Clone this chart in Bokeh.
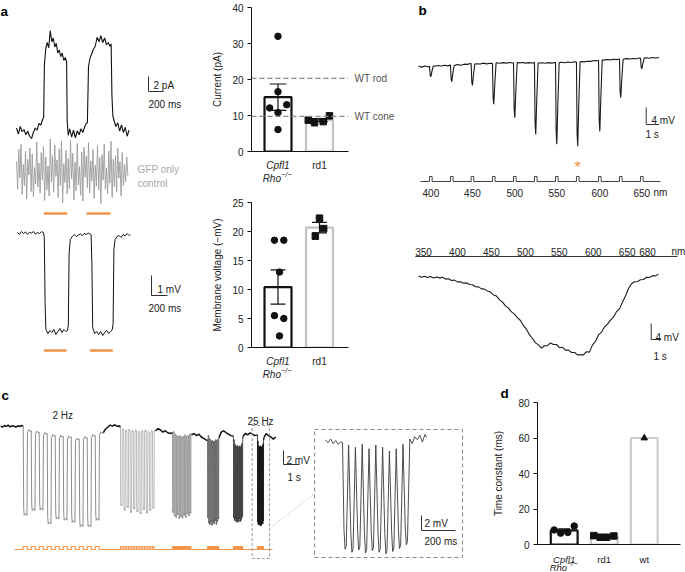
import numpy as np
from bokeh.plotting import figure
from bokeh.models import Range1d, Label, FixedTicker, Span, LinearAxis
from bokeh.layouts import row, column
from bokeh.embed import file_html
from bokeh.resources import INLINE
from bokeh.core.properties import value

# ======================= DATA =======================
# ---- panel a: photocurrent trace (time in ms, current in pA)
a_cur_t = [0, 25, 50, 75, 100, 125, 150, 175, 200, 225, 250, 275, 300, 325, 350, 362, 372, 390, 410, 430,
           450, 470, 490, 510, 530, 550, 570, 590, 610, 630, 650, 668, 676, 690, 710, 735, 760, 785, 810, 835,
           860, 885, 910, 930, 945, 960, 980, 1000, 1025, 1050, 1075, 1100, 1125, 1150, 1175, 1200, 1225, 1245, 1262, 1272,
           1285, 1300, 1325, 1350, 1375, 1400, 1425, 1450, 1475, 1500]
a_cur_v = [0.6, -0.2, 0.8, 0.1, 0.4, -0.3, 0.2, -0.5, -0.8, 0.0, 0.6, 0.3, 1.2, 1.0, 1.8, 2.0, 9.0, 11.2, 12.0, 11.3,
           13.6, 12.1, 12.6, 11.4, 11.9, 10.6, 11.0, 10.1, 10.6, 9.6, 10.0, 9.4, 1.5, -0.4, 0.5, -0.6, 0.3, -0.7, 0.2, -0.3,
           0.5, 0.0, 0.8, 1.2, 1.3, 8.8, 9.9, 10.4, 11.1, 11.5, 12.7, 12.1, 12.9, 12.0, 12.6, 11.7, 12.0, 11.5, 11.8, 5.0,
           2.2, 1.6, 0.8, 1.3, 0.2, 1.0, 0.0, 0.7, -0.5, 0.3]
a_cur_light_on = [364, 933]
a_cur_light_off = [676, 1253]
# GFP-only control trace, one value every 15 ms (pA)
a_gfp_dt = 15
a_gfp_v = [1.2, -2.5, 2.8, -1.0, 3.5, -3.2, 0.8, -2.0, 2.6, -3.8, 1.5, -0.6, 3.0, -2.8, 2.2, -3.5, 0.4, -1.8, 3.8, -2.2,
           1.0, -3.0, 2.4, -1.2, 3.2, -4.0, 1.8, -2.6, 0.6, -3.4, 4.2, -1.5, 2.0, -2.9, 3.4, -0.8, 1.4, -3.6, 2.9, -2.0,
           3.9, -4.3, 0.9, -1.6, 2.7, -3.1, 1.6, -2.4, 4.0, -1.1, 2.3, -3.9, 1.1, -2.7, 3.6, -1.9, 0.5, -3.3, 2.5, -4.1,
           3.1, -0.9, 1.9, -2.3, 3.7, -3.0, 1.3, -1.4, 2.8, -3.7, 0.7, -2.1, 3.3, -2.6, 1.7, -4.4, 2.1, -1.3, 3.5, -2.5,
           0.3, -3.1, 2.6, -1.7, 3.9, -3.6, 1.5, -2.2, 2.0, -2.9, 3.0, -1.0, 1.2, -3.4, 2.4, -2.0, 0.8, -1.5, 1.8, -0.7]
# membrane voltage trace (ms, mV)
a_vm_t = [0, 25, 50, 75, 100, 125, 150, 175, 200, 225, 250, 275, 300, 325, 335, 345, 355, 380, 405, 430,
          455, 480, 505, 530, 555, 580, 605, 625, 635, 645, 660, 685, 710, 735, 760, 785, 810, 835, 860, 885,
          910, 920, 930, 940, 965, 990, 1015, 1040, 1065, 1090, 1115, 1140, 1165, 1185, 1195, 1205, 1220, 1245, 1270, 1295,
          1320, 1345, 1370, 1395, 1410]
a_vm_v = [0.05, -0.05, 0.1, 0.0, 0.08, -0.04, 0.06, 0.02, 0.1, -0.03, 0.05, 0.0, 0.09, 0.04, -0.2, -3.5, -4.8, -5.0, -4.85, -4.95,
          -4.8, -5.05, -4.9, -4.75, -4.95, -4.8, -4.9, -4.85, -4.6, -1.0, -0.3, -0.15, -0.05, -0.15, -0.08, -0.02, -0.1, 0.0, -0.05, 0.02,
          -0.03, -0.05, -1.5, -4.7, -5.0, -4.9, -5.05, -4.9, -5.1, -4.95, -4.85, -5.0, -4.9, -4.8, -4.5, -0.8, -0.3, -0.15, -0.1, -0.2,
          -0.05, -0.12, 0.0, -0.1, -0.05]
a_vm_light_on = [329, 904]
a_vm_light_off = [613, 1191]

# ---- panel a bar charts
groups_a = ["Cpfl1", "rd1"]
cur_cpfl1 = [32.0, 16.6, 12.1, 13.0, 10.8, 6.1]
cur_rd1 = [8.7, 8.0, 8.3, 9.9]
wt_rod_current = 20.3
wt_cone_current = 9.75
vm_cpfl1 = [18.5, 18.5, 13.0, 5.5, 5.0, 2.0]
vm_rd1 = [22.3, 20.5, 19.2]

# ---- panel b, top: responses to 11 wavelengths (time s, mV)
b_wavelength = [400, 425, 450, 475, 500, 525, 550, 575, 600, 625, 650]
b_flash_t = [0.85, 2.46, 4.05, 5.69, 7.31, 8.92, 10.54, 12.15, 13.85, 15.46, 17.08]
b_depth = [2.5, 3.9, 5.1, 9.6, 12.9, 16.9, 19.2, 19.8, 16.7, 9.1, 2.5]
b_flash_dur = 0.2
b_base_dt = 0.25
b_base_v = [0.05, -0.15, 0.10, -0.05, 0.20, 0.05, 0.25, 0.10, 0.30, 0.15, 0.35, 0.20, 0.45, 0.30, 0.55, 0.50,
            0.70, 0.55, 0.65, 0.60, 0.80, 0.62, 0.78, 0.70, 0.90, 0.75, 0.92, 0.80, 0.95, 0.82, 0.98, 0.85,
            0.95, 0.80, 0.92, 0.82, 0.96, 0.84, 0.90, 0.78, 0.92, 0.80, 0.95, 0.85, 1.00, 0.90, 1.05, 0.95,
            1.10, 1.00, 1.15, 1.08, 1.25, 1.20, 1.40, 1.35, 1.55, 1.50, 1.65, 1.55, 1.70, 1.62, 1.78, 1.70,
            1.85, 1.76, 1.90, 1.82, 1.98, 1.90, 2.05, 1.95, 2.10, 2.00, 2.12]
# ---- panel b, bottom: slow spectral ramp 350-680 nm (one value every 0.3 s, mV)
b_ramp_dt = 0.3
b_ramp_v = [0.1, -0.2, 0.05, -0.25, 0.0, -0.35, -0.1, -0.4, -0.2, -0.65, -0.55, -1.0, -0.9, -1.35, -1.3, -1.7,
            -1.6, -2.0, -2.05, -2.55, -2.6, -3.1, -3.15, -3.6, -3.9, -4.6, -4.9, -5.85, -6.4, -7.35, -7.9, -8.85,
            -9.4, -10.35, -11.0, -12.3, -13.2, -14.6, -15.5, -16.6, -17.1, -17.9, -17.3, -17.3, -16.6, -17.0, -17.0,
            -17.8, -17.7, -18.4, -18.4, -19.0, -19.0, -19.6, -19.6, -19.6, -18.8, -18.9, -17.1, -16.2, -14.6, -13.9,
            -12.6, -11.9, -10.9, -10.1, -8.8, -8.1, -6.4, -4.9, -3.0, -1.8, -1.3, -1.25, -0.8, -0.75, -0.2, -0.25,
            0.2, 0.15, 0.6]
b_ramp_ticks = [350, 400, 450, 500, 550, 600, 650, 680]

# ---- panel c: flicker trains (time s, mV)
c_freq = [2, 5, 10, 15, 20, 25]
c_start = [1.42, 7.5, 10.75, 12.94, 14.56, 16.06]
c_bottom = [[-12.7, -12.0, -11.9, -13.9, -13.2, -13.4, -13.7, -14.3, -14.3, -13.4],
            [-11.3, -12.0, -11.6, -12.3, -11.8, -12.2, -12.5, -11.9, -12.4, -12.0, -11.7],
            [-12.3, -12.8, -13.0, -12.6, -13.2, -12.9, -13.1, -12.7, -13.0, -12.5, -12.8, -12.4],
            [-13.0, -13.8, -14.0, -13.6, -14.1, -13.7, -13.9, -13.5, -14.0, -13.6, -13.2],
            [-13.0, -13.4, -13.2, -13.6, -13.3, -13.7, -13.5, -13.2, -13.6, -13.4, -13.1, -12.8],
            [-13.6, -14.0, -13.8, -14.1, -13.9, -14.2, -14.0, -13.8, -13.9, -13.5]]
c_top = [[-0.6, -0.8, -1.0, -1.3, -1.4, -1.5, -1.8, -1.6, -1.3, -0.9],
         [-0.4, -0.6, -0.5, -0.7, -0.6, -0.8, -0.7, -0.6, -0.8, -0.7, -0.6],
         [-0.8, -1.2, -1.4, -1.5, -1.4, -1.6, -1.5, -1.3, -1.5, -1.4, -1.2, -1.1],
         [-1.4, -1.8, -2.0, -2.2, -2.1, -2.3, -2.2, -2.0, -2.1, -1.9, -1.6],
         [-2.0, -2.6, -2.9, -3.0, -2.8, -3.1, -3.0, -2.9, -3.1, -2.8, -2.5, -1.6],
         [-2.2, -2.8, -3.0, -3.1, -2.9, -3.2, -3.0, -2.9, -2.6, -1.8]]
# resting stretches between trains
c_gap_t = [[0.0, 0.12, 0.24, 0.36, 0.48, 0.6, 0.72, 0.84, 0.96, 1.08, 1.2, 1.32, 1.42],
           [6.42, 6.55, 6.7, 6.85, 7.0, 7.15, 7.3, 7.42, 7.5],
           [9.7, 9.85, 10.0, 10.15, 10.3, 10.45, 10.6, 10.75],
           [11.95, 12.1, 12.25, 12.4, 12.55, 12.7, 12.85, 12.94],
           [13.67, 13.8, 13.95, 14.1, 14.25, 14.4, 14.56],
           [15.16, 15.3, 15.45, 15.6, 15.75, 15.9, 16.06],
           [16.46, 16.6, 16.75, 16.9, 17.05, 17.2]]
c_gap_v = [[0.1, -0.1, 0.15, 0.0, 0.2, -0.05, 0.1, 0.05, -0.1, 0.1, 0.0, 0.15, 0.05],
           [-0.9, -0.4, -0.1, 0.2, 0.05, 0.25, 0.0, 0.1, -0.1],
           [-0.6, -0.3, -0.5, -0.8, -0.6, -0.9, -1.0, -0.9],
           [-1.2, -1.0, -1.3, -1.1, -1.5, -1.7, -1.9, -2.0],
           [-1.5, -0.8, -0.6, -0.9, -1.1, -1.3, -1.4],
           [-1.4, -1.0, -1.2, -0.9, -1.1, -1.3, -1.2],
           [-1.6, -1.0, -1.3, -1.5, -1.8, -1.5]]
# inset: 25 Hz train (time ms, mV)
ins_freq = 25
ins_start = 100
ins_bottom = [-14.5, -14.9, -14.6, -15.0, -14.7, -14.9, -15.1, -14.8, -14.4, -13.9]
ins_top = [-0.6, -0.9, -0.5, -1.1, -0.6, -0.9, -1.4, -1.1, -0.5, 0.2]
ins_pre_t = [0, 15, 30, 45, 60, 75, 90, 100]
ins_pre_v = [0.1, -0.3, 0.2, -0.4, 0.0, -0.5, -0.2, -0.3]
ins_post_t = [510, 525, 540, 555, 570, 585, 595]
ins_post_v = [-0.4, 0.5, 0.1, 0.7, -0.2, 0.8, 0.4]

# ---- panel d: time constants (ms)
groups_d = ["Cpfl1", "rd1", "wt"]
tau_cpfl1 = [8.2, 6.4, 6.8, 10.4]
tau_rd1 = [5.0, 4.1, 4.1, 4.8]
tau_wt = [60.0]

# ======================= STYLE / HELPERS =======================
FONT = "Liberation Sans"
ORANGE = "#F39448"
TXT = "#222222"
FS = "10px"
SC = {}


def trace_fig(w, h, xr, yr):
    p = figure(width=w, height=h, x_range=Range1d(*xr), y_range=Range1d(*yr),
               toolbar_location=None, output_backend="svg",
               x_axis_location=None, y_axis_location=None, min_border=0)
    p.grid.visible = False
    p.outline_line_color = None
    return p


def strip_fig(w, h, ml, mr, xr, yr):
    p = figure(width=w, height=h, x_range=xr, y_range=Range1d(*yr),
               toolbar_location=None, output_backend="svg",
               x_axis_location=None, y_axis_location=None,
               min_border_left=ml, min_border_right=mr, min_border_top=0, min_border_bottom=0)
    p.grid.visible = False
    p.outline_line_color = None
    return p


def add_scale(p, name, x0, kx, y0, ky):
    L, R = p.x_range.start, p.x_range.end
    B, T = p.y_range.start, p.y_range.end
    p.extra_x_ranges = {**p.extra_x_ranges, name: Range1d((L - x0) / kx, (R - x0) / kx)}
    p.extra_y_ranges = {**p.extra_y_ranges, name: Range1d((y0 - B) / ky, (y0 - T) / ky)}
    SC[name] = (x0, kx, y0, ky)


def ux(name, px):
    x0, kx, _, _ = SC[name]
    return (px - x0) / kx


def uy(name, py):
    _, _, y0, ky = SC[name]
    return (y0 - py) / ky


def scalebar(p, name, cx, cy, dx, dy, color="#333333"):
    x, y = ux(name, cx), uy(name, cy)
    p.line([x, x, x + dx], [y + dy, y, y], x_range_name=name, y_range_name=name,
           line_color=color, line_width=1)


def lab(p, x, y, text, size=FS, color=TXT, align="left", baseline="alphabetic", style="normal"):
    p.add_layout(Label(x=x, y=y, text=text, text_font=FONT, text_font_size=size, text_color=color,
                       text_align=align, text_baseline=baseline, text_font_style=style))


def bar_fig(w, h, ml, mr, mt, mb, xr, yr, ticks, ylabel, title_standoff):
    p = figure(width=w, height=h, x_range=Range1d(*xr), y_range=Range1d(*yr),
               toolbar_location=None, output_backend="svg",
               min_border_left=ml, min_border_right=mr, min_border_top=mt, min_border_bottom=mb)
    p.grid.visible = False
    p.outline_line_color = None
    p.xaxis.ticker = FixedTicker(ticks=[])
    p.xaxis.major_tick_line_color = None
    p.xaxis.minor_tick_line_color = None
    p.xaxis.major_tick_out = 0
    p.xaxis.major_label_standoff = 0
    p.xaxis.axis_line_color = "#111111"
    p.yaxis.ticker = FixedTicker(ticks=ticks)
    p.yaxis.minor_tick_line_color = None
    p.yaxis.major_tick_out = 4
    p.yaxis.major_tick_in = 0
    p.yaxis.axis_line_color = "#111111"
    p.yaxis.major_tick_line_color = "#111111"
    p.yaxis.major_label_text_font = FONT
    p.yaxis.major_label_text_font_size = FS
    p.yaxis.major_label_text_color = TXT
    p.yaxis.major_label_standoff = 4
    p.yaxis.axis_label = ylabel
    p.yaxis.axis_label_text_font = FONT
    p.yaxis.axis_label_text_font_size = FS
    p.yaxis.axis_label_text_font_style = "normal"
    p.yaxis.axis_label_text_color = TXT
    p.yaxis.axis_label_standoff = title_standoff
    return p


def draw_group(p, x, vals, dx, marker, line_color, width, cap):
    m = float(np.mean(vals))
    p.vbar(x=[x], top=[m], width=width, fill_color="white", line_color=line_color, line_width=2.2)
    if len(vals) > 1:
        s = float(np.std(vals, ddof=1) / np.sqrt(len(vals)))
        p.segment(x0=[x], x1=[x], y0=[m - s], y1=[m + s], line_color="#111111", line_width=1.2)
        p.segment(x0=[x - cap, x - cap], x1=[x + cap, x + cap], y0=[m - s, m + s], y1=[m - s, m + s],
                  line_color="#111111", line_width=1.2)
    p.scatter(x=[x + d for d in dx], y=vals, marker=marker, size=6.5, color="#111111")


def group_labels(p, xs, names, y_main, y_rho, y_sup, off, size=FS):
    for x, n in zip(xs, names):
        if n == "Cpfl1":
            lab(p, x, y_main, "Cpfl1", size=size, align="center", style="italic")
            lab(p, x + off, y_rho, "Rho", size=size, align="right", style="italic")
            lab(p, x + off, y_sup, "\u2212/\u2212", size="7.5px", align="left", style="italic")
        else:
            lab(p, x, y_main, n, size=size, align="center")


# ======================= PANEL a (traces) =======================
pa = trace_fig(205, 385, (0, 205), (385, 0))
add_scale(pa, "cur", 16, 0.075, 132, 7.5)
add_scale(pa, "gfp", 16, 0.075, 170, 7.5)
add_scale(pa, "vm", 17, 0.08, 233, 20)
pa.line(a_cur_t, a_cur_v, x_range_name="cur", y_range_name="cur", line_color="#111111", line_width=1.1)
gfp_t = [i * a_gfp_dt for i in range(len(a_gfp_v))]
pa.line(gfp_t, a_gfp_v, x_range_name="gfp", y_range_name="gfp", line_color="#9c9c9c", line_width=0.9)
pa.segment(x0=a_cur_light_on, x1=a_cur_light_off, y0=[213, 213], y1=[213, 213], x_range_name="cur",
           line_color=ORANGE, line_width=2.5)
pa.line(a_vm_t, a_vm_v, x_range_name="vm", y_range_name="vm", line_color="#111111", line_width=1)
pa.segment(x0=a_vm_light_on, x1=a_vm_light_off, y0=[350, 350], y1=[350, 350], x_range_name="vm",
           line_color=ORANGE, line_width=2.5)
scalebar(pa, "cur", 148, 91, 200, 2)
scalebar(pa, "vm", 151, 295, 200, 1)
lab(pa, 0, 10.5, "a", size="13.5px", style="bold", color="#000000")
lab(pa, 153, 85, "2 pA")
lab(pa, 148, 104, "200 ms")
lab(pa, 137, 169, "GFP only", color="#a8a8a8")
lab(pa, 137, 183, "control", color="#a8a8a8")
lab(pa, 157, 289, "1 mV")
lab(pa, 148, 308, "200 ms")

# ======================= PANEL a (bar charts) =======================
pcur = bar_fig(200, 157, 46, 57, 7, 6, (0.3614, 2.699), (0, 40), [0, 10, 20, 30, 40], "Current (pA)", 6)
pcur.add_layout(Span(location=wt_rod_current, dimension="width", line_color="#8a8a8a", line_dash="5 3", line_width=1.3))
pcur.add_layout(Span(location=wt_cone_current, dimension="width", line_color="#8a8a8a", line_dash="5 3", line_width=1.3))
wt_axis = LinearAxis(ticker=FixedTicker(ticks=[wt_cone_current, wt_rod_current]),
                     major_label_overrides={wt_rod_current: "WT rod", wt_cone_current: "WT cone"},
                     axis_line_color=None, major_tick_line_color=None, minor_tick_line_color=None,
                     major_tick_out=0, major_tick_in=0, major_label_standoff=6,
                     major_label_text_font=FONT, major_label_text_font_size=FS,
                     major_label_text_color="#555555")
pcur.add_layout(wt_axis, "right")
draw_group(pcur, 1, cur_cpfl1, [0, 0, -0.2, 0.21, 0, 0], "circle", "#111111", 0.65, 0.2)
draw_group(pcur, 2, cur_rd1, [-0.27, -0.12, 0.09, 0.24], "square", "#c2c2c2", 0.65, 0.2)
scur = strip_fig(200, 28, 46, 57, pcur.x_range, (185, 157))
group_labels(scur, [1, 2], groups_a, 165, 178, 174, 0.072)

pvm = bar_fig(200, 168, 46, 57, 17, 6, (0.3614, 2.699), (0, 25), [0, 5, 10, 15, 20, 25],
              "Membrane voltage (\u2212mV)", 6)
draw_group(pvm, 1, vm_cpfl1, [-0.085, 0.14, 0.036, -0.085, 0.14, 0.036], "circle", "#111111", 0.65, 0.18)
draw_group(pvm, 2, vm_rd1, [0, 0.1, -0.1], "square", "#c2c2c2", 0.65, 0.18)
svm = strip_fig(200, 32, 46, 57, pvm.x_range, (385, 353))
group_labels(svm, [1, 2], groups_a, 361, 373.5, 369.5, 0.072)

# ======================= PANEL b =======================
pb = trace_fig(280, 385, (405, 685), (385, 0))
add_scale(pb, "bt", 418, 13, 66, 4.25)
add_scale(pb, "bb", 418, 10, 276, 4)
add_scale(pb, "nm", 423 - 350 * 0.679, 0.679, 0, 1)

bt = [i * b_base_dt for i in range(len(b_base_v))]
pts = [(t, v) for t, v in zip(bt, b_base_v)
       if not any(f - 0.01 <= t <= f + 0.3 for f in b_flash_t)]
for f, d in zip(b_flash_t, b_depth):
    b0 = float(np.interp(f, bt, b_base_v))
    b1 = float(np.interp(f + 0.3, bt, b_base_v))
    pts += [(f, b0), (f + 0.05, b0 - 0.85 * d), (f + 0.1, b0 - d), (f + 0.18, b0 - 0.5 * d), (f + 0.28, b1)]
pts.sort()
pb.line([p[0] for p in pts], [p[1] for p in pts], x_range_name="bt", y_range_name="bt",
        line_color="#1a1a1a", line_width=1.1)
# flash marks on the wavelength line
sx, sy = [ux("bt", 420)], [181]
for f in b_flash_t:
    sx += [f, f, f + b_flash_dur, f + b_flash_dur]
    sy += [181, 176, 176, 181]
sx.append(ux("bt", 660))
sy.append(181)
pb.line(sx, sy, x_range_name="bt", line_color="#444444", line_width=1)
lab_idx = [i for i, w in enumerate(b_wavelength) if w % 50 == 0]
pb.text(x=[b_flash_t[i] + b_flash_dur / 2 for i in lab_idx], y=[192] * len(lab_idx),
        text=[str(b_wavelength[i]) for i in lab_idx], x_range_name="bt",
        text_font=value(FONT), text_font_size=value(FS), text_color=TXT,
        text_align="center", text_baseline="alphabetic")
lab(pb, 653, 192, "nm")
peak = int(np.argmax(b_depth))
pb.text(x=[b_flash_t[peak] + 0.08], y=[167], text=["*"], x_range_name="bt",
        text_font=value(FONT), text_font_size=value("17px"), text_color=ORANGE,
        text_align="center", text_baseline="alphabetic")
scalebar(pb, "bt", 645.7, 124, 1, 4)
lab(pb, 651, 120, "4 mV")
lab(pb, 645, 134, "1 s")

# ramp
rt = [i * b_ramp_dt for i in range(len(b_ramp_v))]
pb.line(rt, b_ramp_v, x_range_name="bb", y_range_name="bb", line_color="#1a1a1a", line_width=1.1)
pb.line([b_ramp_ticks[0] - 12, b_ramp_ticks[-1] + 44], [256, 256], x_range_name="nm",
        line_color="#333333", line_width=1)
pb.text(x=b_ramp_ticks, y=[251] * len(b_ramp_ticks), text=[str(v) for v in b_ramp_ticks], x_range_name="nm",
        text_font=value(FONT), text_font_size=value(FS), text_color=TXT,
        text_align="center", text_baseline="alphabetic")
lab(pb, 671, 251, "nm")
scalebar(pb, "bb", 650.7, 339, 1, 4)
lab(pb, 655, 337, "4 mV")
lab(pb, 653, 356, "1 s")
lab(pb, 418, 10, "b", size="13.5px", style="bold", color="#000000")

# ======================= PANEL c =======================
pc = trace_fig(490, 187, (0, 490), (572, 385))
add_scale(pc, "c", 0, 16, 426, 7)
add_scale(pc, "st", 0, 16, 549, 3)
add_scale(pc, "ins", 325, 0.17, 440, 7.5)

sec_colors = ["#707070", "#a8a8a8", "#8a8a8a", "#606060", "#3c3c3c", "#141414"]
for k in range(len(c_freq)):
    P = 1.0 / c_freq[k]
    prev = c_gap_v[k][-1]
    xs, ys = [c_gap_t[k][-1]], [prev]
    for i, (b, tp) in enumerate(zip(c_bottom[k], c_top[k])):
        on = c_start[k] + i * P
        xs += [on, on + 0.06 * P, on + 0.12 * P, on + 0.3 * P, on + 0.47 * P, on + 0.53 * P, on + 0.7 * P, on + 0.85 * P]
        ys += [prev, 0.92 * b, b, b + 0.25, b, tp - 0.3, tp + 0.15, tp - 0.1]
        prev = tp
    xs.append(c_gap_t[k + 1][0])
    ys.append(c_gap_v[k + 1][0])
    pc.line(xs, ys, x_range_name="c", y_range_name="c", line_color=sec_colors[k], line_width=0.8)
for gt, gv in zip(c_gap_t, c_gap_v):
    pc.line(gt, gv, x_range_name="c", y_range_name="c", line_color="#111111", line_width=1.5)

# stimulus line
sx, sy = [ux("st", 14)], [0]
for k in range(len(c_freq)):
    P = 1.0 / c_freq[k]
    for i in range(len(c_bottom[k])):
        on = c_start[k] + i * P
        sx += [on, on, on + P / 2, on + P / 2]
        sy += [0, 1, 1, 0]
sx.append(ux("st", 272))
sy.append(0)
pc.line(sx, sy, x_range_name="st", y_range_name="st", line_color=ORANGE, line_width=1.1)

# dashed box around the 25 Hz train and inset
t25a = c_start[-1] - 0.33
t25b = c_start[-1] + len(c_bottom[-1]) / c_freq[-1] + 0.35
pc.quad(left=[t25a], right=[t25b], top=[425], bottom=[558], x_range_name="c",
        fill_color=None, line_color="#9a9a9a", line_dash="3 2", line_width=1)
pc.quad(left=[314], right=[462], top=[429], bottom=[557],
        fill_color=None, line_color="#8a8a8a", line_dash="4 3", line_width=1)
xr_box = SC["c"][0] + SC["c"][1] * t25b
pc.line([xr_box, 314], [528, 493], line_color="#b0b0b0", line_dash="1 2", line_width=1)

# inset trace
ix, iy = list(ins_pre_t), list(ins_pre_v)
P = 1000.0 / ins_freq
for i, (b, tp) in enumerate(zip(ins_bottom, ins_top)):
    on = ins_start + i * P
    ix += [on + 0.22 * P, on + 0.38 * P, on + 0.55 * P, on + 0.72 * P, on + 0.9 * P]
    iy += [0.82 * b, b, 0.97 * b, 0.5 * b + 0.5 * tp, tp]
ix += ins_post_t
iy += ins_post_v
pc.line(ix, iy, x_range_name="ins", y_range_name="ins", line_color="#3a3a3a", line_width=0.9)

scalebar(pc, "c", 283, 464, 1, 2)
lab(pc, 286, 460, "2 mV")
lab(pc, 287, 477, "1 s")
scalebar(pc, "ins", 421, 530, 200, 2)
lab(pc, 424, 523, "2 mV")
lab(pc, 424, 541, "200 ms")
lab(pc, 1, 395, "c", size="13.5px", style="bold", color="#000000")
lab(pc, 52, 415, "2 Hz")
lab(pc, 247, 421, "25 Hz")

# ======================= PANEL d =======================
pd_ = bar_fig(195, 165, 40, 5, 13, 6, (0.3333, 3.905), (0, 80), [0, 20, 40, 60, 80], "Time constant (ms)", 11)
pd_.title.text = "d"
pd_.title.text_font = FONT
pd_.title.text_font_size = "13.5px"
pd_.title.text_font_style = "bold"
pd_.title.text_color = "#000000"
pd_.title.align = "left"
pd_.title.offset = -37
pd_.title.standoff = 0
pd_.title.vertical_align = "top"
draw_group(pd_, 1, tau_cpfl1, [-0.25, -0.09, 0.09, 0.25], "circle", "#111111", 0.67, 0.15)
draw_group(pd_, 2, tau_rd1, [-0.26, -0.1, 0.06, 0.24], "square", "#c2c2c2", 0.67, 0.15)
draw_group(pd_, 3, tau_wt, [0], "triangle", "#cdcdcd", 0.67, 0.15)
sd = strip_fig(195, 22, 40, 5, pd_.x_range, (572, 550))
group_labels(sd, [1, 2, 3], groups_d, 558.6, 567.2, 563.4, 0.072, size="9.5px")

layout = column(row(pa, column(pcur, scur, pvm, svm), pb), row(pc, column(pd_, sd)))
open("out.html", "w").write(file_html(layout, INLINE))
